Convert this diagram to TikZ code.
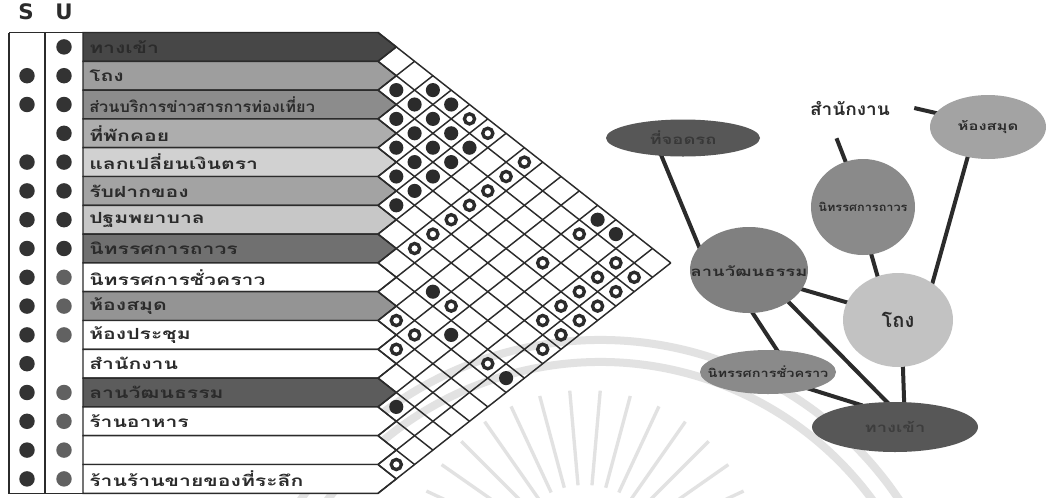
\documentclass[tikz,border=0pt]{standalone}
\usepackage{fontspec}
\newfontfamily\thai[Script=Thai]{Loma}
\newfontfamily\latinsans{DejaVu Sans}
\usetikzlibrary{shapes.geometric}
\pgfdeclarelayer{wm}
\pgfdeclarelayer{bg}
\pgfsetlayers{wm,bg,main}
\definecolor{ink}{HTML}{2B2B2B}
\definecolor{wmark}{HTML}{E2E2E2}
\def\px{0.75pt}
\def\X{378}\def\W{18.3}\def\H{28.8}\def\B{32.5}
\newcommand{\wide}[1]{\scalebox{1.38}[1]{#1}}
\newcommand{\narrowlab}[1]{\scalebox{0.77}[1]{#1}}
\tikzset{
  gridline/.style={draw=ink, line width=1.1pt},
  rowband/.style={draw=ink, line width=1.1pt},
  rowlabel/.style={anchor=west, inner sep=0pt, font=\thai\bfseries\fontsize{11.5}{12}\selectfont, text=ink},
  ringdot/.style={draw=ink, line width=2.5pt, fill=white},
  bubble/.style={ellipse, inner sep=0pt, draw=none},
  link/.style={draw=ink, line width=3pt, shorten <=-3pt, shorten >=-3pt},
  btext/.style={font=\thai\bfseries\fontsize{10}{11}\selectfont, text=ink},
  hdr/.style={font=\latinsans\bfseries\fontsize{16}{16}\selectfont, text=ink, inner sep=0pt},
  wmline/.style={draw=wmark, line width=6pt},
  wmray/.style={draw=wmark, line width=2.5pt},
}
\begin{document}
\begin{tikzpicture}[x=0.75pt,y=-0.75pt]
\useasboundingbox (0,0) rectangle (1051,497);
\begin{pgfonlayer}{wm}
  \fill[white] (0,0) rectangle (1051,497);
  % faint watermark
  \draw[wmline] (288.2,520) arc[start angle=150, end angle=30, radius=360*\px];
  \draw[wmline] (307.3,531) arc[start angle=150, end angle=30, radius=338*\px];
  \foreach \a in {25,35,...,155} {
    \draw[wmray] ({585+80*cos(\a)},{565-80*sin(\a)}) -- ({585+175*cos(\a)},{565-175*sin(\a)});
  }
\end{pgfonlayer}

% header
\node[hdr] (hS) at (26,12) {S};
\node[hdr] (hU) at (64,12) {U};

% S / U box
\draw[ink, line width=1.1pt] (9,\B) -- (83,\B);
\draw[ink, line width=1.1pt] (9,\B) -- (9,493.5);
\draw[ink, line width=1.1pt] (45,\B) -- (45,493.5);
\draw[ink, line width=1.1pt] (9,493.5) -- (83,493.5);

% row bands with labels
\foreach \lab/\fc [count=\i] in {
  ทางเข้า/black!72,
  โถง/black!38,
  \narrowlab{ส่วนบริการข่าวสารการท่องเที่ยว}/black!45,
  ที่พักคอย/black!32,
  แลกเปลี่ยนเงินตรา/black!18,
  รับฝากของ/black!36,
  ปฐมพยาบาล/black!22,
  นิทรรศการถาวร/black!56,
  นิทรรศการชั่วคราว/white,
  ห้องสมุด/black!42,
  ห้องประชุม/white,
  สำนักงาน/white,
  ลานวัฒนธรรม/black!64,
  ร้านอาหาร/white,
  {}/white,
  ร้านร้านขายของที่ระลึก/white} {
  \pgfmathsetmacro\yt{\B+(\i-1)*\H}
  \pgfmathsetmacro\yb{\B+\i*\H}
  \pgfmathsetmacro\yc{\B+(\i-0.5)*\H}
  \filldraw[rowband, fill=\fc] (83,\yt) -- (\X,\yt) -- ({\X+\W},\yc) -- (\X,\yb) -- (83,\yb) -- cycle;
  \node[rowlabel] (row\i) at (89,\yc) {\wide{\lab}};
}

% S/U dots
\foreach \s/\u [count=\i] in {0/1,1/1,1/1,0/1,1/1,1/1,1/1,1/1,1/1,1/1,1/1,1/0,1/1,1/1,1/1,1/1} {
  \pgfmathsetmacro\yc{\B+(\i-0.5)*\H}
  \ifnum\s=1 \fill[black!80] (27,\yc) circle[radius=5.8pt]; \fi
  \ifnum\u=1
    \ifnum\i>8 \fill[black!62] (64,\yc) circle[radius=5.8pt];
    \else \fill[black!80] (64,\yc) circle[radius=5.8pt]; \fi
  \fi
}

% diamond grid
\foreach \k in {0,...,16} {
  \draw[gridline] (\X,{\B+\k*\H}) -- ++({(16-\k)*\W},{(16-\k)*\H/2});
  \draw[gridline] (\X,{\B+\k*\H}) -- ++({\k*\W},{-\k*\H/2});
}

% filled relations
\foreach \i/\j in {2/3,1/4,2/4,1/5,3/4,2/5,3/5,2/6,4/5,3/6,2/7,4/6,3/7,5/6,4/7,5/7,6/7,1/13,1/14,8/11,9/13,9/16,13/14} {
  \fill[ink] ({\X+(\j-\i)*\W},{\B+(\i+\j-1)*\H/2}) circle[radius=5.3pt];
}
% ring relations
\foreach \i/\j in {1/6,1/7,1/9,2/9,3/9,4/9,5/9,6/9,7/9,2/13,4/13,2/15,3/15,2/16,4/15,3/16,8/12,5/15,4/16,10/11,6/15,5/16,10/12,6/16,11/12,7/16,9/15,15/16} {
  \draw[ringdot] ({\X+(\j-\i)*\W},{\B+(\i+\j-1)*\H/2}) circle[radius=3.8pt];
}

% bubble diagram
\node[bubble, fill=black!66, minimum width={154*\px}, minimum height={37*\px}] (park) at (683,138) {};
\node[btext, text=black!78] at (park) {\wide{ที่จอดรถ}};
\node[btext, font=\thai\bfseries\fontsize{13}{13}\selectfont, inner xsep={24*\px}, minimum height={60*\px}] (office) at (850,108) {\scalebox{1.1}[1]{สำนักงาน}};
\node[bubble, fill=black!36, minimum width={116*\px}, minimum height={64*\px}] (lib) at (988,127) {};
\node[btext, font=\thai\bfseries\fontsize{9}{9}\selectfont] at (lib) {\wide{ห้องสมุด}};
\node[bubble, fill=black!46, minimum width={104*\px}, minimum height={96*\px}] (perm) at (863,207) {};
\node[btext, font=\thai\bfseries\fontsize{8.5}{9}\selectfont] at (perm) {\scalebox{1.12}[1]{นิทรรศการถาวร}};
\node[bubble, fill=black!50, minimum width={118*\px}, minimum height={86*\px}] (plaza) at (749,270) {};
\node[btext, font=\thai\bfseries\fontsize{10}{10}\selectfont] at ([yshift=-1]plaza.center) {\wide{ลานวัฒนธรรม}};
\node[bubble, fill=black!24, minimum width={110*\px}, minimum height={94*\px}] (hall) at (898,320) {};
\node[btext, font=\thai\bfseries\fontsize{15}{15}\selectfont] at (hall) {โถง};
\node[bubble, fill=black!46, minimum width={136*\px}, minimum height={44*\px}] (temp) at (768,372) {};
\node[btext, font=\thai\bfseries\fontsize{8.5}{9}\selectfont] at (temp) {\scalebox{1.28}[1]{นิทรรศการชั่วคราว}};
\node[bubble, fill=black!66, minimum width={166*\px}, minimum height={50*\px}] (entry) at (895,427) {};
\node[btext, text=black!76] at (entry) {\wide{ทางเข้า}};

\begin{pgfonlayer}{bg}
  \draw[link] (park.220) -- (plaza.155);
  \draw[link, shorten <=0pt] (office.east) -- (lib.165);
  \draw[link, shorten <=0pt] (office.246) -- (perm.111);
  \draw[link] (lib.236) -- (hall.47);
  \draw[link] (perm.280) -- (hall.115);
  \draw[link] (plaza.340) -- (hall.161);
  \draw[link] (plaza.275) -- (temp.68);
  \draw[link] (plaza.321) -- (entry.108);
  \draw[link] (temp.338) -- (entry.148);
  \draw[link] (hall.276) -- (entry.70);
\end{pgfonlayer}
\end{tikzpicture}
\end{document}
